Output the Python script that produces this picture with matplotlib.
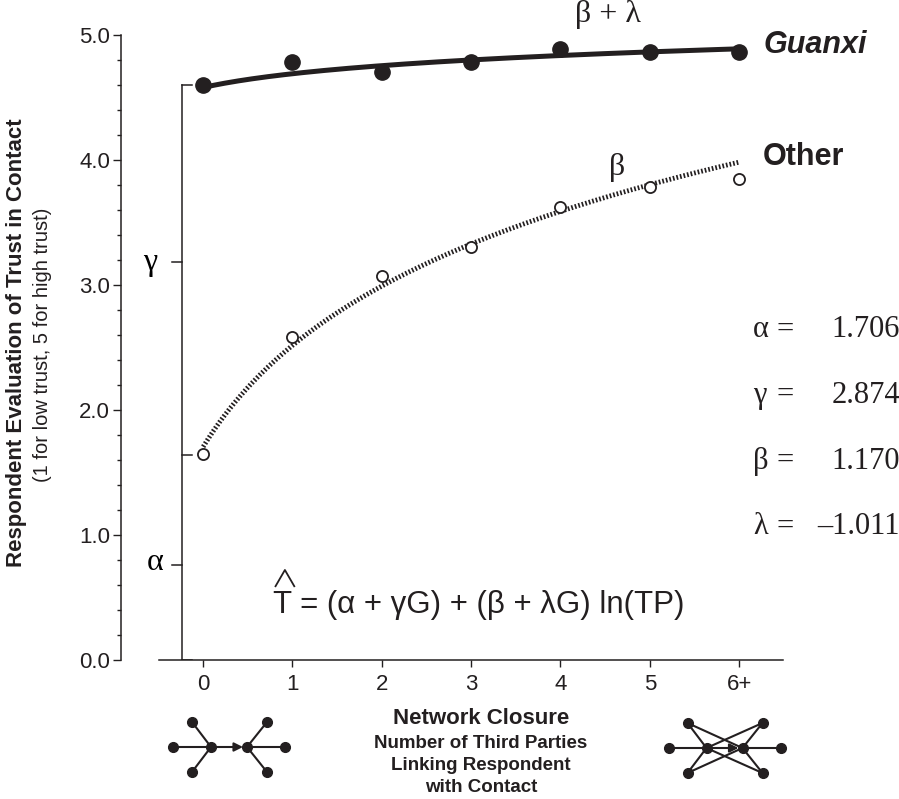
import numpy as np
import matplotlib.pyplot as plt

plt.rcParams['font.family'] = ['Liberation Sans', 'DejaVu Sans']

# data
closure = [0, 1, 2, 3, 4, 5, 6]
closure_labels = ['0', '1', '2', '3', '4', '5', '6+']
guanxi = [4.60, 4.78, 4.70, 4.78, 4.89, 4.86, 4.86]
other = [1.65, 2.58, 3.07, 3.30, 3.62, 3.78, 3.85]

# model coefficients printed on the chart
coef_names = ['α', 'γ', 'β', 'λ']
coef_values = [1.706, 2.874, 1.170, -1.011]
alpha, gamma, beta, lam = coef_values

ink = '#231f20'

# fitted curves T = (a + gG) + (b + lG) ln(TP)
xs = np.linspace(0, 6, 200)
other_fit = alpha + beta * np.log(xs + 1)
guanxi_fit = (alpha + gamma) + (beta + lam) * np.log(xs + 1)

fig = plt.figure(figsize=(8.99, 7.99), dpi=100)
ax = fig.add_axes([0.1346, 0.1740, 0.7362, 0.7822])
ax.set_xlim(-0.92, 6.49)
ax.set_ylim(0, 5.0)

ax.plot(xs, guanxi_fit, color=ink, lw=3.6, solid_capstyle='butt')
ax.plot(closure, guanxi, 'o', ms=11, color=ink, clip_on=False)
ax.plot(xs, other_fit, color=ink, lw=3.5, linestyle=(0, (0.35, 0.4)))
ax.plot(closure, other, 'o', ms=8, mfc='white', mec=ink, mew=1.3)

# inner bracket axis with alpha / gamma marks
xb = -0.235
tl = 0.112
ax.plot([xb, xb], [0, 4.6], color=ink, lw=1.1)
for yv, side in [(0, 1), (0.76, -1), (1.64, 1), (3.18, -1), (4.6, 1)]:
    ax.plot([xb, xb + side * tl], [yv, yv], color=ink, lw=1.1)
ax.text(xb - 0.36, 3.18, 'γ', fontsize=23, family='Liberation Serif', ha='center', va='center')
ax.text(xb - 0.3, 0.78, 'α', fontsize=23, family='Liberation Serif', ha='center', va='center')

# axes styling
ax.spines['top'].set_visible(False)
ax.spines['right'].set_visible(False)
ax.spines['bottom'].set_bounds(-0.5, 6.49)
ax.spines['left'].set_bounds(0, 5)
for s in ['left', 'bottom']:
    ax.spines[s].set_linewidth(1.1)
    ax.spines[s].set_color(ink)
ax.set_xticks(closure, closure_labels)
ax.set_yticks(np.arange(0, 5.01, 1.0), [f'{v:.1f}' for v in np.arange(0, 5.01, 1.0)])
ax.set_yticks(np.arange(0, 5.01, 0.2), minor=True)
ax.tick_params(axis='y', which='major', length=6, width=1, labelsize=16, pad=2, color=ink, labelcolor=ink)
ax.tick_params(axis='y', which='minor', length=3, width=1, color=ink)
ax.tick_params(axis='x', length=5, width=1, labelsize=16, pad=5, color=ink, labelcolor=ink)

# series labels
ax.text(6.27, 4.92, 'Guanxi', fontsize=22, fontweight='bold', style='italic', va='center', color=ink)
ax.text(6.26, 4.02, 'Other', fontsize=22, fontweight='bold', va='center', color=ink)
ax.text(4.53, 5.16, 'β + λ', fontsize=23, family='Liberation Serif', ha='center', va='center', color=ink)
ax.text(4.63, 3.94, 'β', fontsize=23, family='Liberation Serif', ha='center', va='center', color=ink)

# coefficient list
for i, (name, val) in enumerate(zip(coef_names, coef_values)):
    yv = 2.64 - i * 0.525
    ax.text(6.16, yv, name, fontsize=22, family='Liberation Serif', va='center', color=ink)
    ax.text(6.52, yv, '=', fontsize=22, family='Liberation Serif', ha='center', va='center', color=ink)
    ax.text(7.8, yv, f'{val:.3f}'.replace('-', '–'), fontsize=22, family='Liberation Serif',
            ha='right', va='center', color=ink)

# model equation with a hat over T
ax.text(3.09, 0.44, 'T = (α + γG) + (β + λG) ln(TP)', fontsize=22.5, ha='center', va='center', color=ink)
ax.plot([0.81, 0.915, 1.02], [0.59, 0.72, 0.59], color=ink, lw=1.3)

# y axis titles
fig.text(17 / 899, 1 - 343 / 799, 'Respondent Evaluation of Trust in Contact', rotation=90,
         fontsize=16, fontweight='bold', ha='center', va='center', color=ink)
fig.text(43 / 899, 1 - 345 / 799, '(1 for low trust, 5 for high trust)', rotation=90,
         fontsize=14.5, ha='center', va='center', color=ink)

# overlay in pixel units for the x title and network icons
ov = fig.add_axes([0, 0, 1, 1])
ov.set_xlim(0, 899)
ov.set_ylim(799, 0)
ov.axis('off')

ov.text(481, 718, 'Network Closure', fontsize=16, fontweight='bold', ha='center', va='center', color=ink)
for k, line in enumerate(['Number of Third Parties', 'Linking Respondent', 'with Contact']):
    ov.text(481, 743 + k * 22, line, fontsize=13.5, fontweight='bold', ha='center', va='center', color=ink)


def network_icon(cx, cy, closed):
    lc = (cx - 18, cy)
    rc = (cx + 18, cy)
    corners_l = [(cx - 37, cy - 25), (cx - 37, cy + 25)]
    corners_r = [(cx + 38, cy - 25), (cx + 38, cy + 25)]
    outer_l = (cx - 56, cy)
    outer_r = (cx + 56, cy)
    edges = [(outer_l, lc), (rc, outer_r)]
    edges += [(p, lc) for p in corners_l] + [(p, rc) for p in corners_r]
    if closed:
        edges += [(p, rc) for p in corners_l] + [(p, lc) for p in corners_r]
    for a, b in edges:
        ov.plot([a[0], b[0]], [a[1], b[1]], color=ink, lw=1.5)
    ov.annotate('', xy=(rc[0] - 4, cy), xytext=lc,
                arrowprops=dict(arrowstyle='-|>', color=ink, lw=1.5, mutation_scale=13,
                                shrinkA=0, shrinkB=0))
    nodes = [lc, rc, outer_l, outer_r] + corners_l + corners_r
    ov.plot([p[0] for p in nodes], [p[1] for p in nodes], 'o', ms=7, color=ink)


network_icon(229, 747, False)
network_icon(724.5, 748, True)

fig.savefig('out.png', dpi=100)
